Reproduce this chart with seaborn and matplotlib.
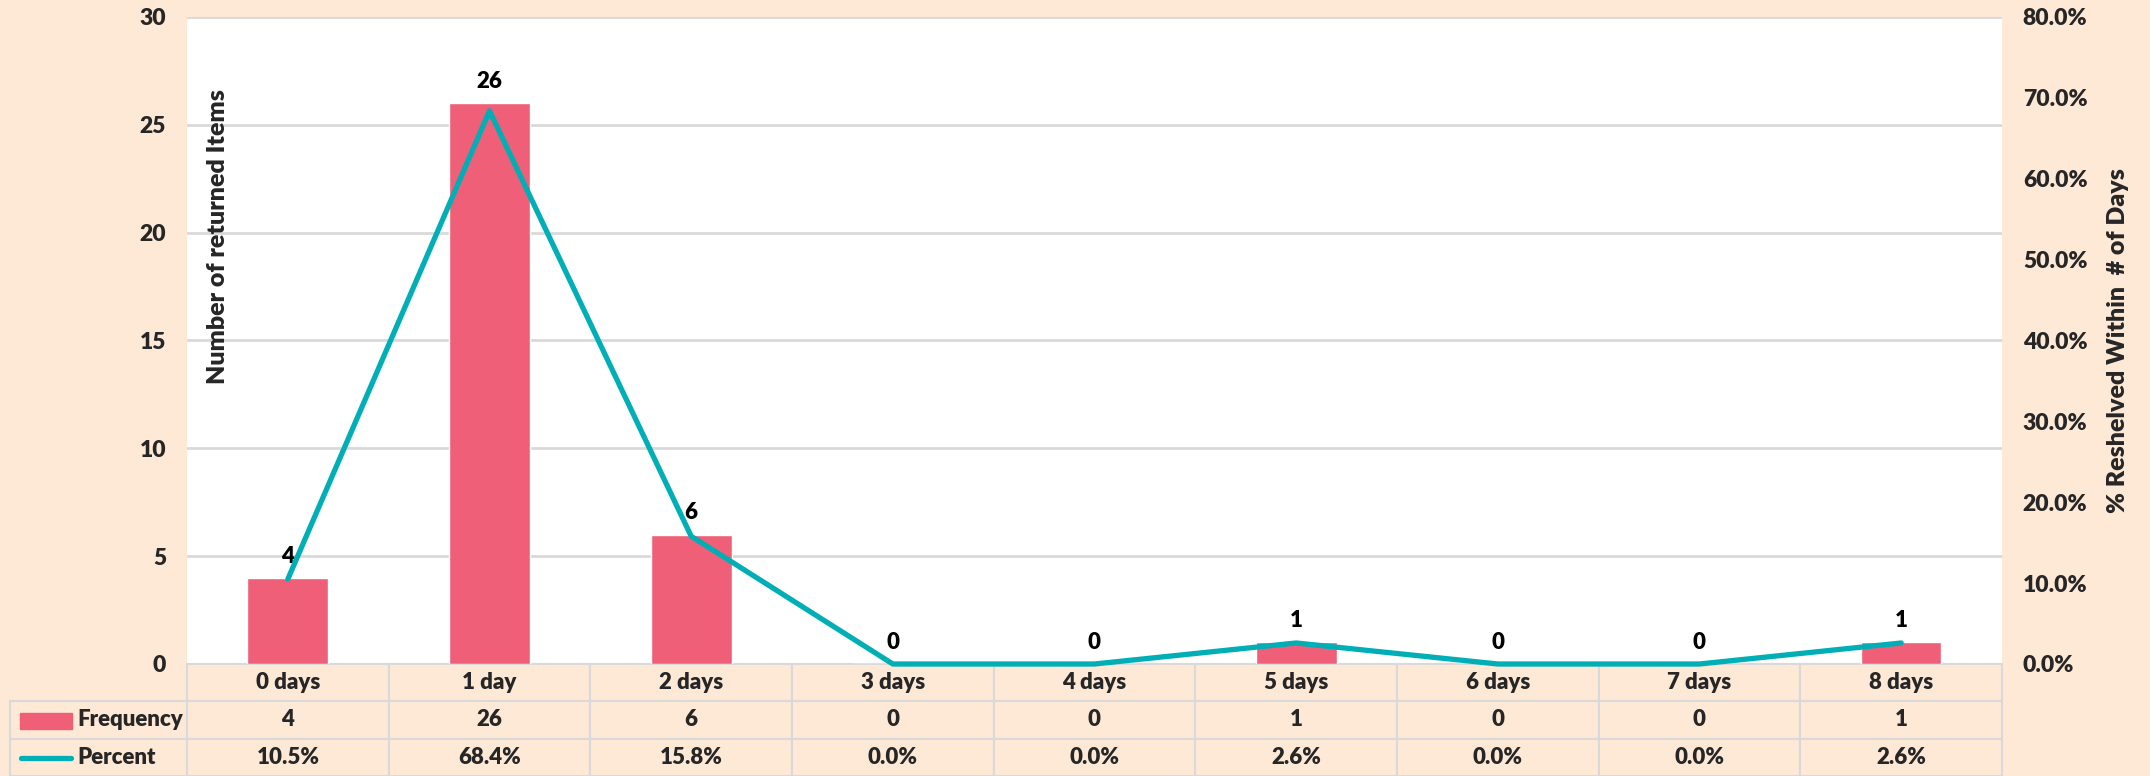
import numpy as np
import pandas as pd
import matplotlib
matplotlib.use('Agg')
import matplotlib.pyplot as plt
import seaborn as sns
from matplotlib.ticker import PercentFormatter, MultipleLocator
from matplotlib.patches import Rectangle
from matplotlib.lines import Line2D

# Data
categories = ['0 days', '1 day', '2 days', '3 days', '4 days', '5 days', '6 days', '7 days', '8 days']
frequency = [4, 26, 6, 0, 0, 1, 0, 0, 1]
percent = [10.5, 68.4, 15.8, 0.0, 0.0, 2.6, 0.0, 0.0, 2.6]
row_names = ['Frequency', 'Percent']

bg = '#FDE9D5'
bar_color = '#EF5F78'
line_color = '#00AFB6'
grid_color = '#D9D9D9'
weight = 'heavy'

sns.set_theme(style='white')
plt.rcParams['font.family'] = ['Lato', 'DejaVu Sans']
plt.rcParams['font.weight'] = weight

data = pd.DataFrame({'Days': categories, 'Frequency': frequency, 'Percent': percent})

fig = plt.figure(figsize=(21.5, 7.76), dpi=100, facecolor=bg)
ax = fig.add_axes([187 / 2150, 112 / 776, 1815 / 2150, 647 / 776])
ax.set_facecolor('white')

# Bars (count)
sns.barplot(data=data, x='Days', y='Frequency', color=bar_color, width=0.4,
            saturation=1, ax=ax, zorder=2)
ax.bar_label(ax.containers[0], labels=[str(v) for v in frequency], padding=8,
             fontsize=16, fontweight=weight, color='black')
ax.set_xlim(-0.5, len(categories) - 0.5)
ax.set_ylim(0, 30)
ax.yaxis.set_major_locator(MultipleLocator(5))
ax.grid(axis='y', color=grid_color, linewidth=2)
ax.set_axisbelow(True)
ax.tick_params(axis='x', labelbottom=False, length=0)
ax.tick_params(axis='y', labelsize=16.5, length=0, pad=15)
ax.set_xlabel('')
ax.set_ylabel('')
for s in ax.spines.values():
    s.set_visible(False)
for t in ax.get_yticklabels():
    t.set_fontweight(weight)
ax.text(0.017, 0.66, 'Number of returned Items', transform=ax.transAxes,
        rotation=90, ha='center', va='center', fontsize=18, fontweight=weight)

# Line (percent) on secondary axis
ax2 = ax.twinx()
sns.lineplot(x=np.arange(len(categories)), y=np.array(percent) / 100, ax=ax2,
             color=line_color, linewidth=3.8, solid_capstyle='round', clip_on=False)
ax2.set_ylim(0, 0.8)
ax2.yaxis.set_major_locator(MultipleLocator(0.1))
ax2.yaxis.set_major_formatter(PercentFormatter(1, decimals=1))
ax2.tick_params(axis='y', labelsize=16.5, length=0, pad=15)
for t in ax2.get_yticklabels():
    t.set_fontweight(weight)
for s in ax2.spines.values():
    s.set_visible(False)
ax2.set_ylabel('% Reshelved Within  # of Days', fontsize=18, fontweight=weight)
ax2.yaxis.set_label_coords(1.058, 0.5)
ax2.grid(False)

# Data table below the plot
cell_text = [[''] + categories,
             [row_names[0]] + [str(v) for v in frequency],
             [row_names[1]] + [f'{v:.1f}%' for v in percent]]
col_widths = [177] + [1815 / len(categories)] * len(categories)
tbl = ax.table(cellText=cell_text, colWidths=col_widths, cellLoc='center',
               bbox=[-177 / 1815, -112 / 647, 1992 / 1815, 112 / 647])
tbl.auto_set_font_size(False)
for (r, c), cell in tbl.get_celld().items():
    cell.set_facecolor(bg)
    cell.set_edgecolor(grid_color)
    cell.set_linewidth(1.5)
    cell.get_text().set_fontsize(16)
    cell.get_text().set_fontweight(weight)
    if r == 0 and c == 0:
        cell.visible_edges = ''
    if r > 0 and c == 0:
        cell._loc = 'left'
        cell.PAD = 0.38
        cell.get_text().set_ha('left')

# Legend keys in the row header cells
key_tf = fig.transFigure
fig.add_artist(Rectangle((20 / 2150, (776 - 729) / 776), 52 / 2150, 16 / 776,
                         transform=key_tf, color=bar_color))
fig.add_artist(Line2D([21 / 2150, 71 / 2150], [(776 - 758) / 776] * 2,
                      transform=key_tf, color=line_color, linewidth=3.8,
                      solid_capstyle='round'))

fig.savefig('out.png', dpi=100, facecolor=bg)
